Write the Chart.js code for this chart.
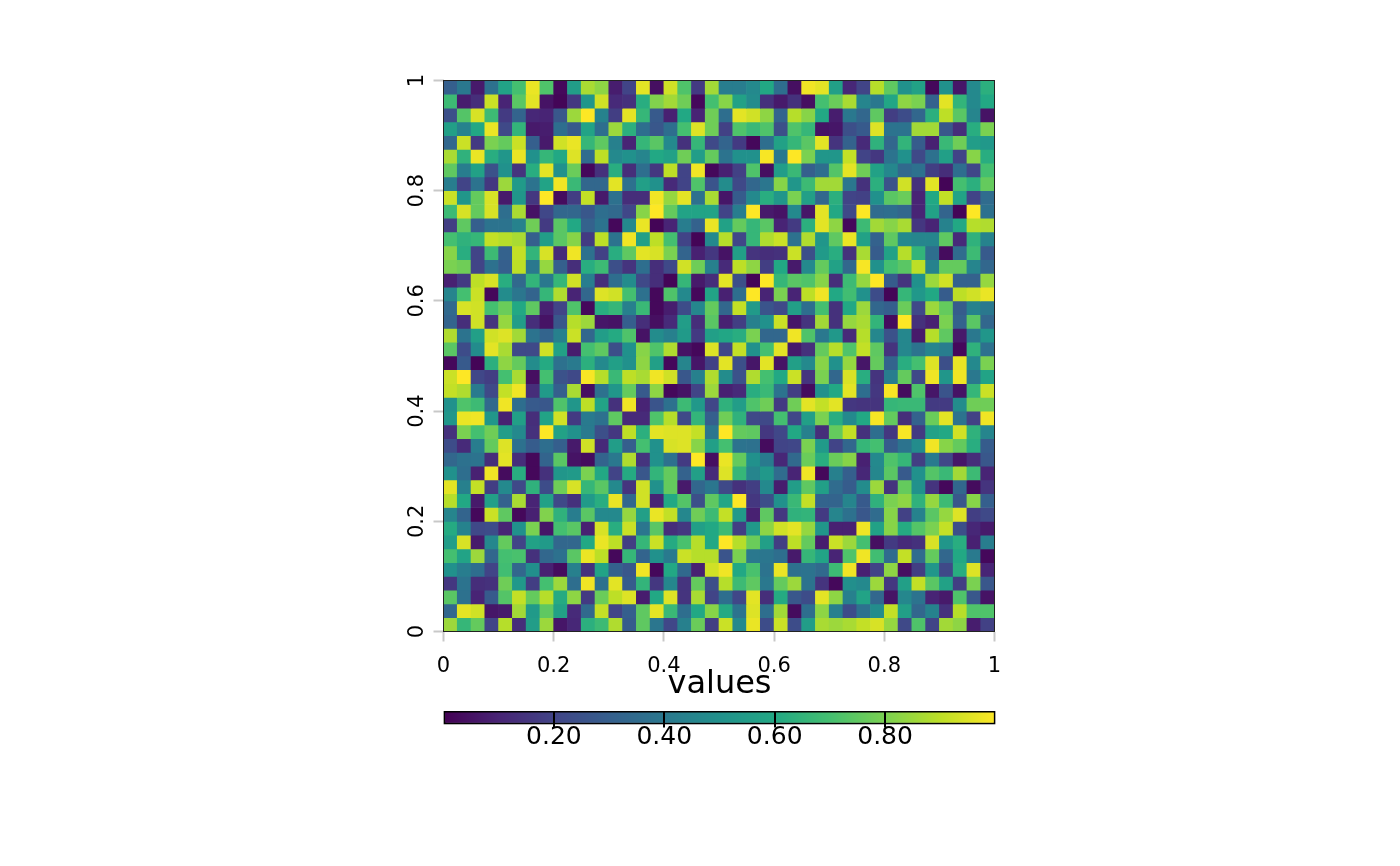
<!DOCTYPE html>
<html>
<head>
<meta charset="utf-8">
<script src="https://cdn.jsdelivr.net/npm/chart.js@4"></script>
<style>
    html, body { margin: 0; padding: 0; background: #fff; }
    #wrap { position: relative; width: 1400px; height: 866px; }
    canvas { position: absolute; }
</style>
</head>
<body>
<div id="wrap">
    <canvas id="grid-chart" style="left:0;top:0;width:1400px;height:866px"></canvas>
    <canvas id="key-chart" style="left:343.5px;top:665px;width:751px;height:105px"></canvas>
</div>
<script>
// values, top row first, left column first
const cellRows = [
    [.3,.4,.07,.37,.58,.7,.97,.72,.02,.55,.87,.83,.08,.2,.96,.04,.93,.72,.17,.86,.42,.42,.47,.6,.36,.04,.98,.96,.56,.11,.2,.89,.75,.5,.57,.02,.5,.06,.47,.63],
    [.68,.08,.13,.92,.1,.74,.96,.05,.01,.16,.52,.93,.12,.14,.62,.81,.86,.78,.02,.7,.82,.57,.48,.14,.07,.14,.04,.7,.77,.87,.45,.4,.59,.83,.8,.31,.96,.65,.47,.6],
    [.24,.73,.94,.68,.17,.32,.11,.1,.27,.85,1,.44,.18,.96,.66,.28,.09,.6,.1,.78,.36,.96,.93,.83,.32,.89,.82,.6,.08,.4,.33,.75,.18,.23,.33,.63,.9,.74,.45,.05],
    [.56,.44,.6,.97,.22,.65,.07,.08,.36,.28,.58,.36,.85,.63,.36,.27,.36,.7,.95,.78,.19,.72,.67,.72,.24,.72,.66,.05,.06,.24,.28,.95,.38,.38,.86,.86,.27,.13,.62,.8],
    [.33,.92,.17,.8,.76,.92,.3,.07,.93,.97,.66,.75,.43,.1,.66,.74,.47,.14,.66,.22,.32,.17,.02,.36,.57,.66,.74,.96,.15,.31,.12,.64,.33,.65,.29,.09,.67,.78,.55,.53],
    [.87,.64,.97,.62,.52,.97,.5,.66,.6,.95,.35,.9,.47,.5,.45,.6,.57,.78,.55,.76,.38,.5,.5,.99,.4,1,.8,.52,.52,.91,.2,.16,.38,.5,.22,.37,.56,.2,.82,.62],
    [.75,.42,.57,.25,.5,.15,.62,.96,.5,.77,.02,.14,.62,.13,.36,.16,.9,.2,.98,.02,.09,.19,.72,.04,.55,.67,.3,.36,.73,.96,.78,.57,.46,.34,.37,.18,.13,.36,.21,.7],
    [.42,.2,.38,.16,.85,.54,.38,.58,.98,.67,.33,.33,.96,.37,.56,.5,.12,.2,.72,.26,.48,.22,.33,.39,.82,.52,.68,.86,.86,.39,.14,.63,.25,.93,.14,.96,.01,.7,.63,.76],
    [.92,.52,.76,.94,.07,.52,.16,1,.03,.18,.91,.07,.37,.13,.13,.98,.84,.96,.37,.87,.06,.29,.47,.62,.52,.8,.56,.33,.63,.2,.19,.5,.74,.77,.1,.6,.91,.58,.2,.35],
    [.68,.94,.76,.94,.36,.87,.05,.21,.33,.33,.27,.36,.34,.21,.82,1,.76,.58,.58,.58,.2,.42,1,.07,.05,.47,.06,.96,.6,.22,1,.35,.36,.33,.1,.57,.32,.01,1,.37],
    [.18,.75,.3,.38,.38,.44,.78,.17,.74,.6,.31,.38,.02,.47,.97,.01,.1,.42,.31,.97,.57,.76,.66,.74,.1,.17,.63,.96,.83,.02,.68,.86,.82,.87,.16,.1,.44,.6,.89,.88],
    [.7,.64,.66,.91,.89,.87,.3,.55,.74,.82,.17,.9,.38,.98,.56,.9,.7,.2,.01,.47,.89,.21,.66,.88,.92,.37,.88,.52,.75,.97,.57,.31,.75,.47,.45,.45,.75,.12,.64,.44],
    [.82,.62,.2,.68,.31,.91,.65,.94,.12,.98,.37,.19,.62,.75,.96,.94,.8,.32,.09,.16,.05,.56,.15,.13,.14,.92,.24,.54,.62,.14,.87,.29,.57,.89,.65,.36,.03,.35,.68,.28],
    [.8,.78,.2,.37,.3,.9,.4,.84,.3,.13,.62,.68,.24,.15,.36,.13,.22,.93,.78,.43,.12,.9,.83,.18,.6,.07,.47,.76,.57,.33,.99,.5,.7,.74,.9,.44,.76,.76,.45,.33],
    [.09,.17,.9,.94,.62,.34,.65,.4,.66,.93,.42,.13,.36,.48,.22,.13,.01,.66,.07,.13,.96,.24,.01,1,.66,.74,.72,.82,.13,.68,.84,1,.29,.15,.5,.85,.93,.31,.31,.84],
    [.45,.7,.92,.02,.48,.39,.32,.66,.88,.1,.33,.95,.93,.7,.37,.02,.72,.47,.02,.58,.09,.36,1,.1,.8,.1,.9,.98,.6,.69,.5,.23,.01,.66,.53,.6,.29,.9,.93,.97],
    [.34,.94,.93,.7,.77,.6,.75,.09,.2,.72,.02,.62,.66,.43,.67,.02,.08,.23,.46,.76,.33,.91,.54,.26,.22,.56,.36,.7,.14,.6,.85,.33,.3,.77,.22,.85,.76,.29,.44,.4],
    [.32,.13,.93,.15,.84,.55,.13,.05,.27,.89,.85,.06,.05,.3,.13,.04,.12,.55,.13,.74,.09,.18,.43,.5,.92,.06,.15,.86,.14,.84,.87,.65,.03,1,.14,.09,.8,.31,.74,.33],
    [.88,.38,.56,.93,.95,.86,.38,.32,.43,.92,.33,.55,.61,.72,.05,.48,.43,.54,.17,.56,.59,.62,.8,.33,.33,.98,.72,.4,.53,.12,.89,.46,.25,.46,.07,.89,.75,.07,.4,.52],
    [.74,.23,.48,.96,.87,.22,.22,.93,.57,.08,.7,.75,.24,.5,.82,.72,.88,.05,.02,.95,.21,.91,.5,.7,.96,.07,.14,.76,.89,.72,.91,.75,.15,.46,.38,.45,.42,.02,.64,.37],
    [.02,.28,.01,.63,.83,.76,.48,.61,.37,.41,.63,.47,.56,.5,.83,.56,.02,.45,.06,.19,.96,.24,.06,.96,.05,.56,.47,.82,.5,.84,.06,.76,.32,.62,.7,.95,.24,.97,.47,.8],
    [.92,1,.21,.18,.7,.87,.04,.7,.25,.22,.99,.89,.67,.9,.87,.98,.93,.27,.43,.88,.48,.25,.88,.7,.6,.92,.15,.8,.33,.94,.62,.15,.42,.76,.22,.98,.52,.98,.4,.58],
    [.91,.88,.41,.22,.91,.98,.13,.54,.3,.87,.04,.37,.52,.76,.28,.83,.02,.05,.2,.85,.09,.12,.62,.67,.38,.18,.03,.5,.6,.96,.36,.16,.99,.03,.72,.06,.26,.05,.66,.92],
    [.5,.72,.68,.34,.98,.36,.28,.27,.72,.52,.9,.58,.14,.98,.1,.26,.37,.68,.53,.21,.64,.55,.72,.78,.17,.78,.96,.91,.96,.16,.15,.15,.66,.67,.67,.17,.17,.48,.78,.78],
    [.52,.97,.98,.52,.09,.56,.13,.58,.93,.17,.41,.37,.75,.12,.12,.72,.89,.22,.65,.3,.78,.64,.22,.22,.7,.21,.56,.8,.62,.47,.6,.99,.76,.13,.31,.77,.96,.38,.19,.98],
    [.14,.8,.7,.78,.55,.47,.14,1,.57,.5,.41,.24,.16,.9,.63,.96,.95,.95,.91,.39,1,.76,.75,.16,.21,.6,.43,.13,.76,.91,.14,.36,.16,.99,.17,.57,.6,.93,.64,.45],
    [.23,.12,.42,.76,.95,.37,.29,.36,.3,.07,.93,.12,.55,.3,.7,.5,.94,.95,.82,.56,.7,.38,.37,.03,.2,.21,.8,.54,.2,.33,.66,.7,.29,.38,.48,.98,.82,.76,.62,.29],
    [.33,.37,.38,.13,.96,.13,.02,.32,.74,.05,.03,.32,.4,.88,.15,.5,.37,.17,1,.04,.97,.76,.5,.41,.11,.34,.77,.62,.77,.82,.09,.47,.72,.66,.18,.41,.21,.06,.13,.27],
    [.5,.36,.09,.98,.03,.62,.02,.14,.52,.54,.8,.6,.2,.61,.27,.65,.76,.31,.56,.12,.95,.66,.45,.53,.35,.1,.98,.02,.43,.3,.11,.46,.74,.28,.5,.73,.67,.86,.68,.1],
    [.96,.43,.91,.18,.47,.22,.64,.23,.78,.94,.66,.74,.47,.15,.93,.5,.76,.07,.33,.39,.22,.14,.18,.47,.08,.55,.75,.56,.35,.29,.48,.85,.15,.76,.5,.15,.02,.33,.03,.15],
    [.89,.6,.07,.56,.31,.87,.1,.57,.22,.14,.54,.62,.97,.33,.93,.1,.6,.73,.24,.75,.59,1,.16,.24,.5,.67,.91,.32,.32,.45,.28,.64,.8,.83,.64,.84,.68,.27,.82,.3],
    [.45,.32,.02,.92,.75,.02,.09,.81,.64,.42,.74,.47,.47,.84,.56,.97,.91,.46,.78,.68,.91,.54,.09,.75,.16,.64,.65,.17,.45,.37,.27,.35,.82,.19,.44,.74,.84,.95,.18,.22],
    [.61,.44,.22,.23,.1,.5,.8,.06,.7,.74,.09,.94,.62,.92,.39,.74,.13,.16,.56,.6,.68,.18,.53,.83,.93,.96,.84,.52,.09,.09,.98,.57,.82,.61,.73,.8,.91,.24,.11,.07],
    [.55,.94,.07,.46,.76,.2,.57,.54,.33,.33,.6,.97,.9,.18,.66,.92,.61,.71,.89,.6,1,.89,.77,.56,.18,.9,.76,.08,.92,.85,.7,.04,.17,.12,.14,.94,.52,.62,.09,.42],
    [.7,.58,.85,.33,.7,.71,.14,.33,.37,.74,.97,.9,.02,.66,.32,.5,.41,.92,.89,.89,.26,.8,.4,.39,.36,.07,.66,.58,.1,.72,.98,.69,.35,.91,.35,.76,.33,.6,.41,.02],
    [.5,.42,.36,.2,.69,.33,.49,.09,.03,.43,.14,.58,.31,.27,.98,.02,.6,.34,.09,.93,.98,.6,.71,.38,.97,.37,.38,.34,.68,.98,.09,.2,.83,.04,.18,.52,.22,.62,.95,.1],
    [.16,.38,.13,.14,.78,.53,.18,.7,.85,.36,.98,.37,.96,.29,.65,.16,.46,.15,.76,.24,.89,.68,.75,.4,.76,.85,.38,.15,.02,.49,.47,.85,.16,.56,.91,.74,.57,.18,.8,.27],
    [.74,.37,.1,.28,.73,.91,.76,.89,.61,.83,.17,.77,.9,.95,.08,.6,.95,.15,.87,.2,.36,.21,.96,.13,.61,.27,.23,.96,.83,.43,.58,.33,.05,.46,.38,.1,.07,.72,.27,.05],
    [.33,.96,.93,.06,.07,.86,.54,.75,.57,.12,.34,.91,.2,.3,.75,.96,.67,.36,.6,.82,.61,.38,.95,.36,.86,.03,.36,.83,.43,.23,.37,.48,.91,.56,.33,.44,.14,.89,.72,.72],
    [.85,.66,.76,.2,.89,.13,.55,.85,.06,.11,.63,.68,.88,.29,.75,.39,.21,.43,.77,.18,.92,.47,.97,.23,.92,.23,.55,.87,.85,.87,.91,.94,.84,.22,.72,.2,.86,.83,.08,.19]
];
const axisTicks = [0, 0.2, 0.4, 0.6, 0.8, 1];
const axisTickLabels = ['0', '0.2', '0.4', '0.6', '0.8', '1'];
const keyTicks = [0.2, 0.4, 0.6, 0.8];
const keyTickLabels = ['0.20', '0.40', '0.60', '0.80'];
const keyTitle = 'values';
const viridisStops = ['#440154', '#482475', '#414487', '#355f8d', '#2a788e', '#21918c', '#22a884', '#44bf70', '#7ad151', '#bddf26', '#fde725'];

const fontName = '"DejaVu Sans"';

function hexToRgb(hex) {
    return [1, 3, 5].map(i => parseInt(hex.slice(i, i + 2), 16));
}

function viridis(v) {
    const pos = Math.min(Math.max(v, 0), 1) * (viridisStops.length - 1);
    const low = Math.min(Math.floor(pos), viridisStops.length - 2);
    const a = hexToRgb(viridisStops[low]);
    const b = hexToRgb(viridisStops[low + 1]);
    const rgb = a.map((c, i) => Math.round(c + (b[i] - c) * (pos - low)));
    return `rgb(${rgb.join(',')})`;
}

const cellSize = 1 / cellRows[0].length;
const rowCount = cellRows.length;

const gridDatasets = cellRows.map((row, r) => ({
    data: row.map((v, c) => ({
        x: (c + 0.5) * cellSize,
        y: [1 - (r + 1) / rowCount, 1 - r / rowCount]
    })),
    backgroundColor: row.map(viridis),
    borderWidth: 0,
    barPercentage: 1,
    categoryPercentage: 1,
    grouped: false
}));

function axisOptions(labelPad) {
    return {
        type: 'linear',
        min: 0,
        max: 1,
        offset: false,
        afterBuildTicks: axis => { axis.ticks = axisTicks.map(value => ({ value })); },
        grid: { offset: false, drawOnChartArea: false, tickLength: 10, tickColor: '#c8c8c8', tickWidth: 2 },
        border: { display: false },
        ticks: {
            autoSkip: false,
            padding: labelPad,
            color: '#000',
            font: { family: fontName, size: 21 },
            callback: (value, i) => axisTickLabels[i]
        }
    };
}

const xAxis = axisOptions(12);
xAxis.afterFit = axis => { axis.height = 234.5; };
xAxis.ticks.maxRotation = 0;
xAxis.ticks.minRotation = 0;

const yAxis = axisOptions(-1);
yAxis.afterFit = axis => { axis.width = 443.5; };
yAxis.ticks.maxRotation = 90;
yAxis.ticks.minRotation = 90;
yAxis.ticks.crossAlign = 'center';

const plotFrame = {
    id: 'plotFrame',
    afterDraw(chart) {
        const { ctx, chartArea: a } = chart;
        ctx.save();
        ctx.strokeStyle = '#222';
        ctx.lineWidth = 1;
        ctx.strokeRect(a.left, a.top, a.right - a.left, a.bottom - a.top);
        ctx.restore();
    }
};

new Chart(document.getElementById('grid-chart'), {
    type: 'bar',
    data: { datasets: gridDatasets },
    options: {
        responsive: false,
        animation: false,
        devicePixelRatio: 1,
        layout: { padding: { left: 0, right: 405.5, top: 80.5, bottom: 0 } },
        plugins: { legend: { display: false }, tooltip: { enabled: false } },
        scales: { x: xAxis, y: yAxis }
    },
    plugins: [plotFrame]
});

new Chart(document.getElementById('key-chart'), {
    type: 'bar',
    data: {
        labels: [keyTitle],
        datasets: [{
            data: [[0, 1]],
            backgroundColor: (context) => {
                const area = context.chart.chartArea;
                if (!area) return viridisStops[0];
                const gradient = context.chart.ctx.createLinearGradient(area.left, 0, area.right, 0);
                viridisStops.forEach((color, i) => gradient.addColorStop(i / (viridisStops.length - 1), color));
                return gradient;
            },
            borderColor: '#000',
            borderWidth: 2,
            borderSkipped: false,
            barPercentage: 1,
            categoryPercentage: 1
        }]
    },
    options: {
        indexAxis: 'y',
        responsive: false,
        animation: false,
        devicePixelRatio: 1,
        layout: { padding: { left: 99.5, right: 99.5, top: 0, bottom: 0 } },
        plugins: {
            legend: { display: false },
            tooltip: { enabled: false },
            title: {
                display: true,
                text: keyTitle,
                color: '#000',
                font: { family: fontName, size: 32, weight: 'normal' },
                padding: { top: 0, bottom: 7.5 }
            }
        },
        scales: {
            x: {
                type: 'linear',
                min: 0,
                max: 1,
                afterBuildTicks: axis => { axis.ticks = keyTicks.map(value => ({ value })); },
                afterFit: axis => { axis.height = 45.5; },
                grid: { z: 1, color: '#000', lineWidth: 2, tickLength: 3, tickColor: '#000', tickWidth: 2 },
                border: { display: false },
                ticks: {
                    autoSkip: false,
                    maxRotation: 0,
                    padding: -5,
                    color: '#000',
                    font: { family: fontName, size: 25 },
                    callback: (value, i) => keyTickLabels[i]
                }
            },
            y: { display: false }
        }
    }
});
</script>
</body>
</html>
